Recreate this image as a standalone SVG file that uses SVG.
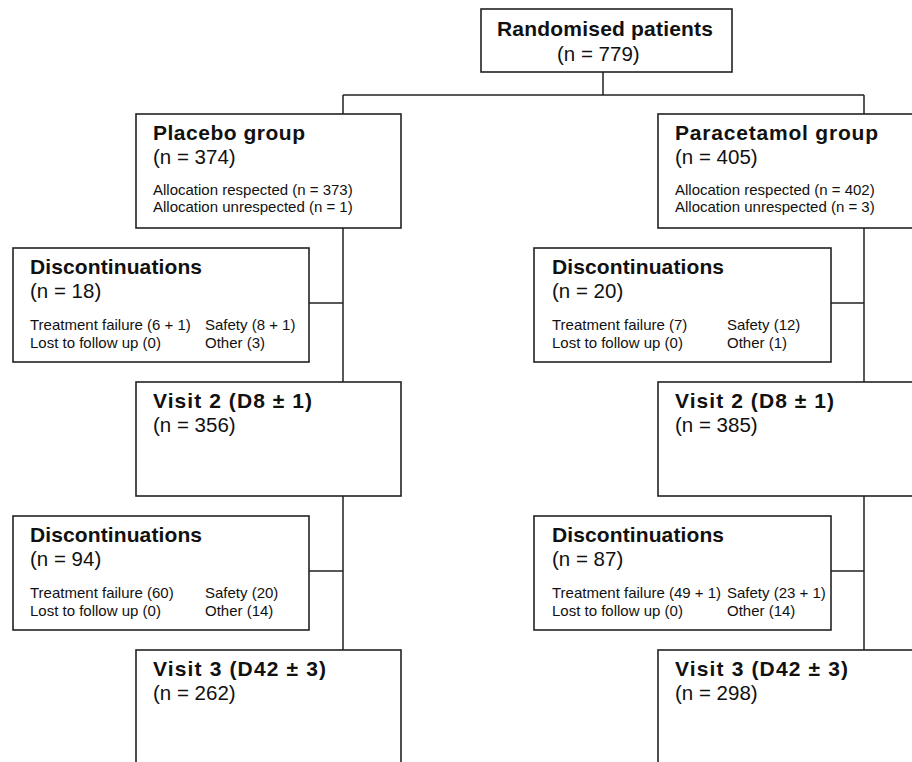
<svg xmlns="http://www.w3.org/2000/svg" width="912" height="762" viewBox="0 0 912 762">
<style>
.box{fill:#fff;stroke:#222;stroke-width:1.6}
.ln{fill:none;stroke:#222;stroke-width:1.5}
text{font-family:"Liberation Sans",Arial,sans-serif;fill:#111}
.t{font-size:21px;font-weight:bold}
.n{font-size:20.5px}
.d{font-size:15px}
</style>
<rect width="912" height="762" fill="#fff"/>
<g id="connectors">
<path class="ln" d="M603 72V95M343 95H864M343 95V114M864 95V114M343 228V382M864 228V382M343 496V650M864 496V650M309 303H343M831 303H864M309 571H343M831 571H864"/>
</g>
<g id="randomised">
<rect class="box" x="481" y="9" width="251" height="63"/>
<text class="t" x="497" y="36" textLength="216" lengthAdjust="spacing">Randomised patients</text>
<text class="n" x="557" y="61">(n = 779)</text>
</g>
<g id="placebo">
<rect class="box" x="136" y="114" width="265" height="114"/>
<text class="t" x="153" y="140" textLength="152" lengthAdjust="spacing">Placebo group</text>
<text class="n" x="153" y="164">(n = 374)</text>
<text class="d" x="153" y="195">Allocation respected (n = 373)</text>
<text class="d" x="153" y="212">Allocation unrespected (n = 1)</text>
</g>
<g id="paracetamol">
<rect class="box" x="658" y="114" width="270" height="114"/>
<text class="t" x="675" y="140" textLength="203" lengthAdjust="spacing">Paracetamol group</text>
<text class="n" x="675" y="164">(n = 405)</text>
<text class="d" x="675" y="195">Allocation respected (n = 402)</text>
<text class="d" x="675" y="212">Allocation unrespected (n = 3)</text>
</g>
<g id="disc1-placebo">
<rect class="box" x="13" y="248" width="296" height="114"/>
<text class="t" x="30" y="274" textLength="172" lengthAdjust="spacing">Discontinuations</text>
<text class="n" x="30" y="298">(n = 18)</text>
<text class="d" x="30" y="330">Treatment failure (6 + 1)</text>
<text class="d" x="205" y="330">Safety (8 + 1)</text>
<text class="d" x="30" y="348">Lost to follow up (0)</text>
<text class="d" x="205" y="348">Other (3)</text>
</g>
<g id="disc1-paracetamol">
<rect class="box" x="534" y="248" width="297" height="114"/>
<text class="t" x="552" y="274" textLength="172" lengthAdjust="spacing">Discontinuations</text>
<text class="n" x="552" y="298">(n = 20)</text>
<text class="d" x="552" y="330">Treatment failure (7)</text>
<text class="d" x="727" y="330">Safety (12)</text>
<text class="d" x="552" y="348">Lost to follow up (0)</text>
<text class="d" x="727" y="348">Other (1)</text>
</g>
<g id="visit2-placebo">
<rect class="box" x="136" y="382" width="265" height="114"/>
<text class="t" x="153" y="408" textLength="159" lengthAdjust="spacing">Visit 2 (D8 ± 1)</text>
<text class="n" x="153" y="432">(n = 356)</text>
</g>
<g id="visit2-paracetamol">
<rect class="box" x="658" y="382" width="270" height="114"/>
<text class="t" x="675" y="408" textLength="159" lengthAdjust="spacing">Visit 2 (D8 ± 1)</text>
<text class="n" x="675" y="432">(n = 385)</text>
</g>
<g id="disc2-placebo">
<rect class="box" x="13" y="516" width="296" height="114"/>
<text class="t" x="30" y="542" textLength="172" lengthAdjust="spacing">Discontinuations</text>
<text class="n" x="30" y="566">(n = 94)</text>
<text class="d" x="30" y="598">Treatment failure (60)</text>
<text class="d" x="205" y="598">Safety (20)</text>
<text class="d" x="30" y="616">Lost to follow up (0)</text>
<text class="d" x="205" y="616">Other (14)</text>
</g>
<g id="disc2-paracetamol">
<rect class="box" x="534" y="516" width="297" height="114"/>
<text class="t" x="552" y="542" textLength="172" lengthAdjust="spacing">Discontinuations</text>
<text class="n" x="552" y="566">(n = 87)</text>
<text class="d" x="552" y="598">Treatment failure (49 + 1)</text>
<text class="d" x="727" y="598">Safety (23 + 1)</text>
<text class="d" x="552" y="616">Lost to follow up (0)</text>
<text class="d" x="727" y="616">Other (14)</text>
</g>
<g id="visit3-placebo">
<rect class="box" x="136" y="650" width="265" height="130"/>
<text class="t" x="153" y="676" textLength="173" lengthAdjust="spacing">Visit 3 (D42 ± 3)</text>
<text class="n" x="153" y="700">(n = 262)</text>
</g>
<g id="visit3-paracetamol">
<rect class="box" x="658" y="650" width="270" height="130"/>
<text class="t" x="675" y="676" textLength="173" lengthAdjust="spacing">Visit 3 (D42 ± 3)</text>
<text class="n" x="675" y="700">(n = 298)</text>
</g>
</svg>
